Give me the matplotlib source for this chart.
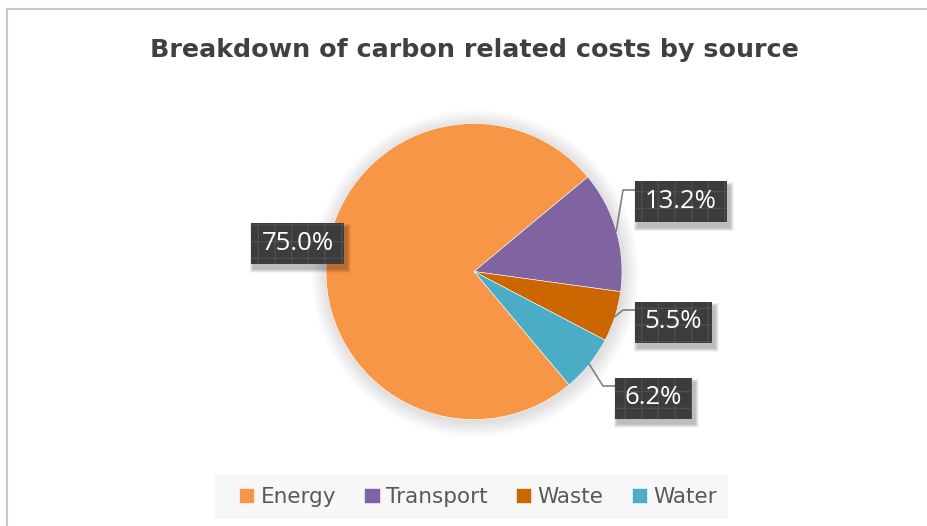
import numpy as np
import matplotlib.pyplot as plt
from matplotlib.patches import Rectangle, Circle

# carbon related costs, share by source (%)
sources = ['Energy', 'Transport', 'Waste', 'Water']
shares = [75.0, 13.2, 5.5, 6.2]
colors = ['#F79646', '#8064A2', '#CC6600', '#4BACC6']

W, H = 928, 526

# label boxes in pixel coords (centre x, centre y, width, height)
box_cx = [297.5, 681, 673.5, 653.5]
box_cy = [243, 201.5, 322, 398]
box_w = [93, 92, 77, 77]
box_h = 41
# leader line elbows and ends (None for the big slice)
elbows = [None, (623, 190), (623, 310), (603, 386)]
ends = [None, (635, 190), (635, 310), (615, 386)]

cx, cy, r = 474, 271.5, 148


def py(y):
    # flip pixel row into axes coords
    return H - y


fig = plt.figure(figsize=(W / 100, H / 100), dpi=100)
ax = fig.add_axes([0, 0, 1, 1])

# soft halo behind the pie
for k in range(16):
    ax.add_patch(Circle((cx + 1, py(cy) - 2), r + 16 - k, color='#000000',
                        alpha=0.008, lw=0, zorder=0))

wedges, _ = ax.pie(shares, colors=colors, startangle=-50, counterclock=False,
                   center=(cx, py(cy)), radius=r,
                   wedgeprops=dict(edgecolor='white', linewidth=0.4))
for w in wedges:
    w.set_zorder(2)

ax.set_xlim(0, W)
ax.set_ylim(0, H)
ax.axis('off')

# chart border (top and left edges)
ax.plot([7, W], [py(9), py(9)], color='#c8c8c8', lw=1.5, zorder=1)
ax.plot([7, 7], [py(9), 0], color='#c8c8c8', lw=1.5, zorder=1)

ax.text(474, py(50), 'Breakdown of carbon related costs by source',
        ha='center', va='center', fontsize=18.3, fontweight='bold',
        color='#404040', family='DejaVu Sans')

for i, (w, val) in enumerate(zip(wedges, shares)):
    # leader line from the slice edge
    if elbows[i] is not None:
        mid = np.deg2rad((w.theta1 + w.theta2) / 2)
        sx = cx + r * np.cos(mid)
        sy = py(cy) + r * np.sin(mid)
        ex, ey = elbows[i]
        fx, fy = ends[i]
        ax.plot([sx, ex, fx], [sy, py(ey), py(fy)], color='#808080',
                lw=1.2, zorder=3)

    x0 = box_cx[i] - box_w[i] / 2
    y0 = py(box_cy[i]) - box_h / 2
    # blurred drop shadow
    for k in range(8):
        g = 8 - k
        ax.add_patch(Rectangle((x0 + 3 - g / 2, y0 - 5 - g / 2),
                               box_w[i] + g, box_h + g, color='#000000',
                               alpha=0.035, lw=0, zorder=4))
    ax.add_patch(Rectangle((x0, y0), box_w[i], box_h, facecolor='#3c3c3c',
                           edgecolor='#4e4e4e', hatch='+', lw=0, zorder=5))
    ax.text(box_cx[i], py(box_cy[i]), f'{val:.1f}%', ha='center',
            va='center', fontsize=18.5, color='white', family='Open Sans',
            zorder=6)

# legend strip
ax.add_patch(Rectangle((215, py(519)), 513, 44, facecolor='#f7f7f7',
                       lw=0, zorder=1))
leg = fig.legend(wedges, sources, loc='center',
                 bbox_to_anchor=(478 / W, 1 - 497 / H), ncol=4,
                 frameon=False, fontsize=15.5,
                 handlelength=0.72, handleheight=0.72, handletextpad=0.3,
                 columnspacing=1.3, borderpad=0.45, labelcolor='#595959')

fig.savefig('out.png', dpi=100, facecolor='white')
